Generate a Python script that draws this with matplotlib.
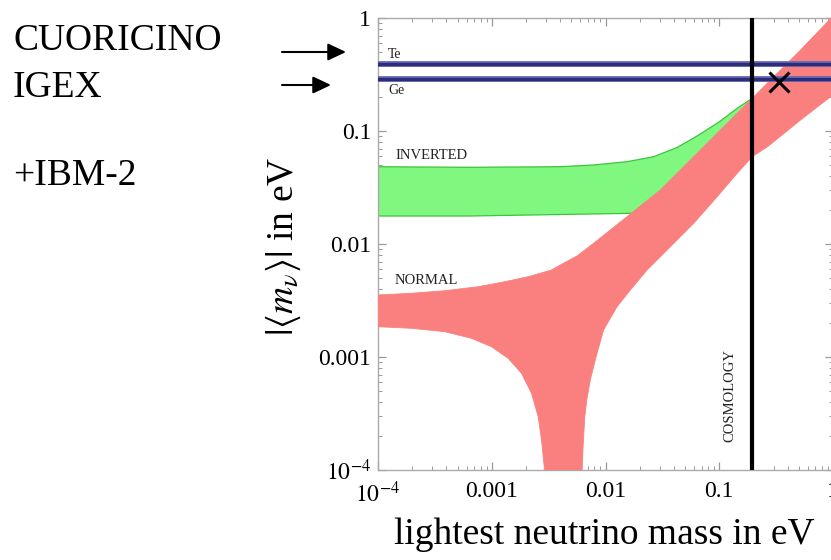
import matplotlib
matplotlib.use("Agg")
import matplotlib.pyplot as plt
from matplotlib.patches import FancyArrowPatch
from matplotlib.ticker import FixedLocator, FixedFormatter, LogLocator, NullFormatter

plt.rcParams['font.family'] = ['Liberation Serif', 'DejaVu Serif']
plt.rcParams['mathtext.fontset'] = 'stix'

# ---------------- data ----------------
normal_upper_x = [1e-4, 1.963e-4, 3.865e-4, 7.592e-4, 1.304e-3, 2.091e-3, 3.354e-3, 4.0e-3,
                  5.612e-3, 7.858e-3, 0.01102, 0.01546, 0.02165, 0.03037, 0.04259, 0.05964,
                  0.08366, 0.1173, 0.1643, 0.1948, 0.5187, 1.0]
normal_upper_y = [3.538e-3, 3.663e-3, 3.860e-3, 4.188e-3, 4.638e-3, 5.136e-3, 5.886e-3, 6.519e-3,
                  7.829e-3, 0.01014, 0.01330, 0.01744, 0.02292, 0.03004, 0.04223, 0.05923,
                  0.08324, 0.1170, 0.1641, 0.1947, 0.5208, 1.04]
normal_lower_right_x = [1.0, 0.9526, 0.5187, 0.2657, 0.1948, 0.1438, 0.09584, 0.05964, 0.03478,
                        0.02319, 0.01653, 0.01263, 0.00962, 0.008299, 0.007348, 0.006845,
                        0.006572, 0.006375, 0.006247, 0.00622]
normal_lower_right_y = [0.211, 0.2011, 0.1252, 0.0726, 0.05923, 0.04223, 0.02621, 0.01525, 0.008848,
                        0.005886, 0.003917, 0.002787, 0.001734, 0.001020, 0.000626, 0.000416,
                        0.000294, 0.000173, 0.0001063, 8e-5]
normal_lower_left_x = [0.0029, 0.002892, 0.002739, 0.002561, 0.002236, 0.001826, 0.001394,
                       0.000994, 0.0006628, 0.0003865, 0.0001963, 1e-4]
normal_lower_left_y = [8e-5, 0.0001069, 0.0001843, 0.0002962, 0.0004774, 0.0007175, 0.0009738,
                       0.001234, 0.001464, 0.001675, 0.001795, 0.001854]

inverted_upper_x = [1e-4, 6.454e-4, 4.0e-3, 7.858e-3, 0.01546, 0.02651, 0.04259, 0.05358,
                    0.0683, 0.1025, 0.1438, 0.1948]
inverted_upper_y = [0.04831, 0.04772, 0.04831, 0.05002, 0.05350, 0.05923, 0.07145, 0.08154,
                    0.09408, 0.1226, 0.1589, 0.1947]
inverted_lower_x = [0.19, 0.05, 0.01711, 6.454e-4, 1e-4]
inverted_lower_y = [0.1, 0.03, 0.01869, 0.01769, 0.01769]

te_limit = 0.39
ge_limit = 0.29
cosmology_limit = 0.193
cross_x = [0.334]
cross_y = [0.27]

x_ticks = [1e-4, 1e-3, 1e-2, 1e-1, 1.0]
x_tick_labels = [r'$10^{-4}$', '0.001', '0.01', '0.1', '1']
y_ticks = [1e-4, 1e-3, 1e-2, 1e-1, 1.0]
y_tick_labels = [r'$10^{-4}$', '0.001', '0.01', '0.1', '1']

# ---------------- figure ----------------
W, H = 831, 560
fig = plt.figure(figsize=(W / 100, H / 100), dpi=100)
ax_left, ax_right, ax_top, ax_bot = 378, 833, 18, 470
ax = fig.add_axes([ax_left / W, 1 - ax_bot / H, (ax_right - ax_left) / W, (ax_bot - ax_top) / H])
ax.set_xscale('log')
ax.set_yscale('log')
ax.set_xlim(1e-4, 1.0)
ax.set_ylim(1e-4, 1.0)

green_x = inverted_upper_x + inverted_lower_x
green_y = inverted_upper_y + inverted_lower_y
ax.fill(green_x, green_y, facecolor='#80f880', edgecolor='#3cc43c', lw=0.9,
        joinstyle='round', zorder=2)

red_x = normal_upper_x + normal_lower_right_x + normal_lower_left_x
red_y = normal_upper_y + normal_lower_right_y + normal_lower_left_y
ax.fill(red_x, red_y, facecolor='#fa8080', edgecolor='#fa8080', lw=0.6,
        joinstyle='round', zorder=3)

for lim in (te_limit, ge_limit):
    ax.axhline(lim, color='#6a6ab8', lw=4.2, zorder=4)
    ax.axhline(lim, color='#2c2c78', lw=2.4, zorder=4)
ax.axvline(cosmology_limit, color='black', lw=3.0, zorder=5)
ax.plot(cross_x, cross_y, marker='x', color='black', markersize=14, mew=2.2, ls='none', zorder=6)

ax.text(1.23e-4, 0.48, 'Te', fontsize=10, va='center', ha='left', color='#222222', zorder=7)
ax.text(1.23e-4, 0.23, 'Ge', fontsize=10, va='center', ha='left', color='#222222', zorder=7)
ax.text(1.41e-4, 0.0607, 'INVERTED', fontsize=10.5, va='center', ha='left', color='#222222', zorder=7)
ax.text(1.41e-4, 0.00471, 'NORMAL', fontsize=10.5, va='center', ha='left', color='#222222', zorder=7)
ax.text(0.123, 4.6e-4, 'COSMOLOGY', fontsize=10.5, rotation=90, va='center', ha='center',
        color='#222222', zorder=7)

ax.xaxis.set_major_locator(FixedLocator(x_ticks))
ax.xaxis.set_major_formatter(FixedFormatter(x_tick_labels))
ax.yaxis.set_major_locator(FixedLocator(y_ticks))
ax.yaxis.set_major_formatter(FixedFormatter(y_tick_labels))
for axis in (ax.xaxis, ax.yaxis):
    axis.set_minor_locator(LogLocator(base=10, subs=range(2, 10)))
    axis.set_minor_formatter(NullFormatter())
ax.tick_params(which='both', direction='in', top=True, right=True, color='#999999')
ax.tick_params(which='major', length=6, width=0.9, labelsize=17)
ax.tick_params(which='minor', length=3, width=0.7)
ax.tick_params(axis='x', which='major', pad=8)
ax.tick_params(axis='y', which='major', pad=5)
for s in ax.spines.values():
    s.set_color('#aaaaaa')
    s.set_linewidth(1.0)

ax.set_xlabel('lightest neutrino mass in eV', fontsize=27)
ax.xaxis.set_label_coords(0.497, -0.105)
ax.set_ylabel(r'$|\langle m_\nu \rangle|$ in eV', fontsize=27)
ax.yaxis.set_label_coords(-0.165, 0.495)

fig.text(13 / W, 1 - 50 / H, 'CUORICINO', fontsize=27, ha='left', va='baseline')
fig.text(13 / W, 1 - 97 / H, 'IGEX', fontsize=27, ha='left', va='baseline')
fig.text(13 / W, 1 - 185 / H, '+IBM-2', fontsize=27, ha='left', va='baseline')

for (x0, x1, yp) in [(282, 346, 52), (282, 331, 85)]:
    arr = FancyArrowPatch((x0 / W, 1 - yp / H), (x1 / W, 1 - yp / H), transform=fig.transFigure,
                          arrowstyle='-|>,head_length=0.55,head_width=0.26', mutation_scale=20,
                          color='black', lw=1.5, shrinkA=0, shrinkB=0)
    fig.add_artist(arr)

fig.savefig('out.png', dpi=100)
